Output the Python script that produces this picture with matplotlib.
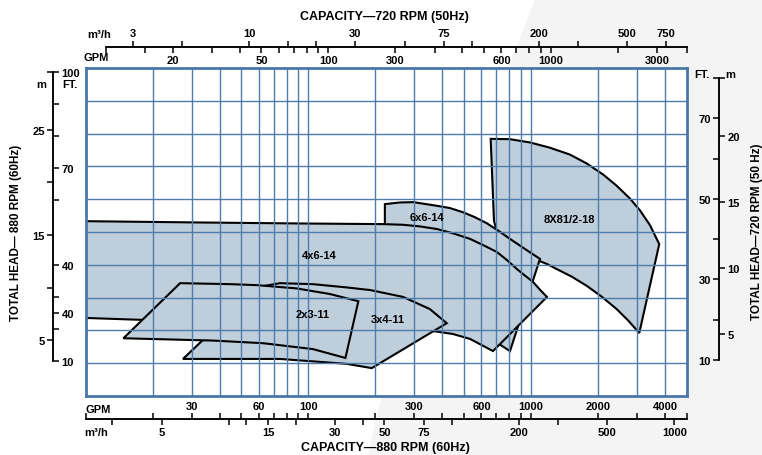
import numpy as np
import matplotlib.pyplot as plt
from matplotlib.patches import Polygon
from matplotlib.ticker import NullLocator

W, H = 762, 456
plt.rcParams['font.family'] = ['Liberation Sans', 'DejaVu Sans']
plt.rcParams['font.weight'] = 'bold'

# pump coverage areas: capacity in GPM (880 RPM) and head in FT
gpm_8x8 = [660, 806, 991, 1218, 1498, 1781, 2114, 2429, 2786, 3090, 3426, 3772,
           3068, 2737, 2429, 2079, 1781, 1525, 1306, 1185, 1080, 727, 683]
ft_8x8 = [78.4, 78.3, 77.3, 75.7, 73.6, 70.9, 67.5, 64.1, 60.2, 56.6, 52.1, 46.3,
          19.2, 23.0, 26.5, 30.3, 33.6, 36.4, 38.7, 40.2, 41.3, 46.3, 53.4]

gpm_6x6 = [221, 258, 297, 378, 433, 497, 561, 633, 714, 806, 991, 1099, 806, 480, 221]
ft_6x6 = [58.5, 59.0, 59.1, 58.0, 57.3, 56.0, 54.5, 52.7, 50.4, 47.9, 43.8, 41.8, 13.7, 23.5, 38.7]

gpm_4x6 = [10, 32.7, 91.9, 219, 267, 318, 379, 447, 533, 611, 704, 779, 866, 941, 1022, 1099, 1181,
           676, 533, 447, 364, 258, 154, 55, 18.1, 10]
ft_4x6 = [53.3, 52.9, 52.6, 52.4, 52.2, 51.7, 50.9, 49.6, 47.9, 46.0, 43.9, 41.5, 38.7, 36.7, 34.8, 32.4, 30.2,
          13.7, 17.4, 18.9, 19.8, 21.0, 22.0, 22.9, 23.2, 23.8]

gpm_3x4 = [27.4, 33.7, 55.9, 74.7, 105, 149, 190, 267, 352, 419, 193, 149, 74.7]
ft_3x4 = [11.3, 17.1, 32.9, 34.4, 34.1, 33.1, 32.3, 30.2, 26.5, 22.2, 8.5, 9.8, 11.3]

gpm_2x3 = [14.8, 26.6, 44.6, 58.7, 88.8, 125, 168, 147, 105, 62.7, 37.4]
ft_2x3 = [17.6, 34.4, 34.1, 33.8, 32.8, 31.1, 28.9, 11.6, 14.3, 16.1, 16.9]

# drawn back to front
areas = [(gpm_8x8, ft_8x8), (gpm_6x6, ft_6x6), (gpm_4x6, ft_4x6), (gpm_3x4, ft_3x4), (gpm_2x3, ft_2x3)]
area_names = ['8X81/2-18', '6x6-14', '4x6-14', '3x4-11', '2x3-11']
name_gpm = [1483, 342, 112, 228, 105]
name_ft = [54.0, 54.6, 43.0, 23.5, 25.0]

grid_gpm = [20, 30, 40, 50, 60, 70, 80, 90, 100, 200, 300, 400, 500, 600, 700, 800, 900, 1000, 2000, 3000, 4000]
grid_ft = [10, 20, 30, 40, 50, 60, 70, 80, 90]

# scale rulers around the chart
bot_gpm = [10, 20, 30, 40, 50, 60, 70, 80, 90, 100, 200, 300, 400, 500, 600, 700, 800, 900, 1000, 2000, 3000, 4000, 5000]
bot_gpm_lbl = ['', '', '30', '', '', '60', '', '', '', '100', '', '300', '', '', '600', '', '', '', '1000', '2000', '', '4000', '']
bot_m3h = [3, 5, 10, 12, 15, 20, 30, 40, 50, 75, 100, 200, 300, 500, 1000]
bot_m3h_lbl = ['', '5', '', '', '15', '', '30', '', '50', '75', '', '200', '', '500', '1000']

top_gpm = [10, 15, 20, 30, 40, 50, 60, 70, 80, 90, 100, 200, 300, 400, 500, 600, 700, 800, 900, 1000, 2000, 3000, 4080]
top_gpm_lbl = ['', '', '20', '', '', '50', '', '', '', '', '100', '300', '', '', '', '600', '', '', '', '1000', '', '3000', '']
top_m3h = [3, 5, 10, 15, 20, 30, 50, 75, 100, 200, 300, 500, 750]
top_m3h_lbl = ['3', '', '10', '', '', '30', '', '75', '', '200', '', '500', '750']

left_ft = [10, 20, 25, 30, 40, 60, 70, 80, 90, 100]
left_ft_lbl = ['10', '', '40', '', '40', '', '70', '', '', '100']
left_m = [5, 10, 15, 20, 25, 30.48]
left_m_lbl = ['5', '', '15', '', '25', '']

right_ft = [10, 20, 30, 40, 50, 60, 70, 80]
right_ft_lbl = ['10', '', '30', '', '50', '', '70', '']
right_m = [5, 10, 15, 20, 24.38]
right_m_lbl = ['5', '10', '15', '20', '']

GPM_PER_M3H = 4.403
FT_PER_M = 3.2808

fill_c = '#bfcedb'
grid_c = '#4f7cab'


def box(x0, y0, x1, y1):
    return [x0 / W, 1 - y1 / H, (x1 - x0) / W, (y1 - y0) / H]


def ruler(x0, y0, x1, y1, lim, ticks, labels, side, log=False):
    horizontal = y0 == y1
    if horizontal:
        a = fig.add_axes([x0 / W, 1 - y0 / H, (x1 - x0) / W, 1e-4])
        axis = a.xaxis
        if log:
            a.set_xscale('log')
        a.set_xlim(lim)
        a.set_yticks([])
    else:
        a = fig.add_axes([x0 / W, 1 - y1 / H, 1e-4, (y1 - y0) / H])
        axis = a.yaxis
        a.set_ylim(lim)
        a.set_xticks([])
    a.patch.set_visible(False)
    for s in a.spines.values():
        s.set_visible(False)
    a.spines[side].set_visible(True)
    a.spines[side].set_linewidth(1.1)
    axis.set_ticks(ticks)
    axis.set_ticklabels(labels)
    axis.set_minor_locator(NullLocator())
    axis.set_ticks_position(side)
    a.tick_params(axis='x' if horizontal else 'y', which='major', direction='out',
                  length=4.5, width=1.1, pad=1.5, labelsize=8)
    return a


fig = plt.figure(figsize=(W / 100, H / 100), dpi=100)
fig.patches.append(Polygon([(536 / W, 1), (1, 1), (1, 0), (369 / W, 0), (384 / W, 1 - 390 / H)],
                           closed=True, transform=fig.transFigure, color='#f4f4f4', zorder=-10))

ax = fig.add_axes(box(85.5, 69, 686.5, 397))
ax.set_xscale('log')
ax.set_xlim(10, 5000)
ax.set_ylim(0, 100)

for i, (g, f) in enumerate(areas):
    ax.fill(g, f, facecolor=fill_c, edgecolor='black', linewidth=1.5, joinstyle='miter', zorder=1 + i * 0.1)

for name, g, f in zip(area_names, name_gpm, name_ft):
    ax.text(g, f, name, ha='center', va='center', fontsize=8, zorder=5)

ax.set_xticks(grid_gpm)
ax.set_yticks(grid_ft)
ax.xaxis.set_minor_locator(NullLocator())
ax.tick_params(length=0, labelbottom=False, labelleft=False)
ax.grid(True, color=grid_c, linewidth=1.0)
for s in ax.spines.values():
    s.set_color('#4a77a8')
    s.set_linewidth(2.0)

# bottom scale (60Hz)
ruler(85.5, 420, 686.5, 420, (10, 5000), bot_gpm, bot_gpm_lbl, 'top', log=True)
ruler(85.5, 420, 686.5, 420, (10 / GPM_PER_M3H, 5000 / GPM_PER_M3H), bot_m3h, bot_m3h_lbl, 'bottom', log=True)
fig.text(85 / W, 1 - 410 / H, 'GPM', fontsize=8, va='center')
fig.text(84 / W, 1 - 433 / H, 'm³/h', fontsize=8, va='center')
fig.text(385 / W, 1 - 448 / H, 'CAPACITY—880 RPM (60Hz)', fontsize=9, ha='center', va='center')

# top scale (50Hz)
ruler(106, 47.7, 686.6, 47.7, (10, 4080), top_gpm, top_gpm_lbl, 'bottom', log=True)
ruler(106, 47.7, 686.6, 47.7, (10 / GPM_PER_M3H, 4080 / GPM_PER_M3H), top_m3h, top_m3h_lbl, 'top', log=True)
fig.text(84 / W, 1 - 58 / H, 'GPM', fontsize=8, va='center')
fig.text(87 / W, 1 - 35 / H, 'm³/h', fontsize=8, va='center')
fig.text(384 / W, 1 - 17 / H, 'CAPACITY—720 RPM (50Hz)', fontsize=9, ha='center', va='center')

# left head scale (60Hz)
ruler(53.3, 73, 53.3, 362, (10, 100), left_ft, left_ft_lbl, 'right')
ruler(53.3, 73, 53.3, 362, (10 / FT_PER_M, 100 / FT_PER_M), left_m, left_m_lbl, 'left')
fig.text(36 / W, 1 - 85 / H, 'm', fontsize=8, va='center')
fig.text(62 / W, 1 - 85 / H, 'FT.', fontsize=8, va='center')
fig.text(16 / W, 1 - 233 / H, 'TOTAL HEAD— 880 RPM (60Hz)', fontsize=8.5, rotation=90,
         ha='center', va='center')

# right head scale (50Hz)
ruler(719.3, 79, 719.3, 361, (10, 80), right_ft, right_ft_lbl, 'left')
ruler(719.3, 79, 719.3, 361, (10 / FT_PER_M, 80 / FT_PER_M), right_m, right_m_lbl, 'right')
fig.text(710 / W, 1 - 75 / H, 'FT.', fontsize=8, va='center', ha='right')
fig.text(725 / W, 1 - 75 / H, 'm', fontsize=8, va='center')
fig.text(757 / W, 1 - 232 / H, 'TOTAL HEAD—720 RPM (50 Hz)', fontsize=8.5, rotation=90,
         ha='center', va='center')

fig.savefig('out.png', dpi=100)
